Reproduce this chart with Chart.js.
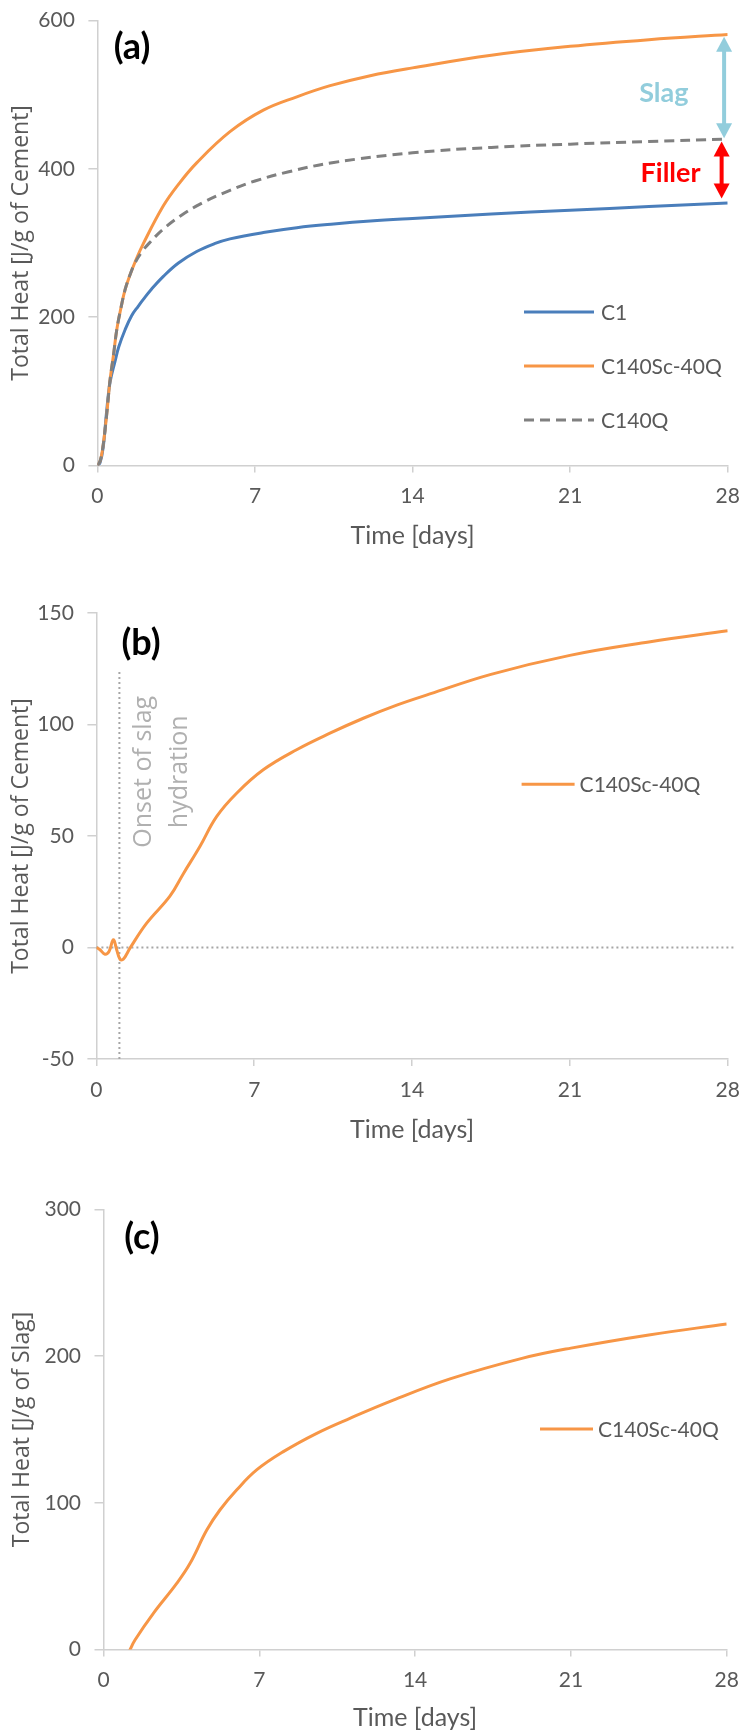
<!DOCTYPE html>
<html>
<head>
<meta charset="utf-8">
<script src="https://cdn.jsdelivr.net/npm/chart.js@4.4.1/dist/chart.umd.min.js"></script>
<style>
html, body { margin: 0; padding: 0; background: #ffffff; }
#wrap { position: relative; width: 741px; height: 1733px; overflow: hidden; background: #ffffff; }
canvas { position: absolute; left: 0; }
</style>
</head>
<body>
<div id="wrap">
  <canvas id="chartA" width="741" height="560" style="top:0px"></canvas>
  <canvas id="chartB" width="741" height="590" style="top:560px"></canvas>
  <canvas id="chartC" width="741" height="583" style="top:1150px"></canvas>
</div>
<script>
// ---------- tick labels ----------
const xTickValues = [0, 7, 14, 21, 28];
const yTicksA = [0, 200, 400, 600];
const yTicksB = [-50, 0, 50, 100, 150];
const yTicksC = [0, 100, 200, 300];

// ---------- series names ----------
const nameC1 = 'C1';
const nameSlag = 'C140Sc-40Q';
const nameQuartz = 'C140Q';

// ---------- panel (a): total heat per g cement ----------
const c1Days = [0, 0.12, 0.26, 0.4, 0.56, 0.78, 0.95, 1.23, 1.52, 1.82, 2.04, 2.41, 2.93, 3.6, 4.41, 5.2, 5.89, 7.37, 8.86, 10.5, 12.12, 14, 17.5, 21, 24.5, 28];
const c1Heat = [0, 4, 25, 70, 112, 140, 160, 183, 202, 215, 224, 238, 255, 273, 288.5, 299, 305.5, 314, 320.5, 325.5, 329.5, 333, 339, 344, 349, 354];

const slagDays = [0, 0.12, 0.22, 0.34, 0.45, 0.56, 0.72, 0.86, 1.05, 1.23, 1.45, 1.67, 2.04, 2.93, 3.6, 4.41, 5.89, 7.37, 8.86, 10.34, 12.12, 14, 17.5, 21, 24.5, 28];
const slagHeat = [0, 6, 20, 48, 80, 115, 150, 183, 213, 237, 257, 274, 299, 350, 379, 408, 450, 479, 497, 512, 525.5, 536, 553, 565, 574, 581];

const quartzDays = [0, 0.12, 0.22, 0.34, 0.45, 0.56, 0.72, 0.86, 1.05, 1.23, 1.45, 1.67, 2.0, 2.34, 2.9, 3.67, 4.6, 5.89, 7, 8.5, 10.5, 14, 17.5, 21, 24.5, 28];
const quartzHeat = [0, 6, 20, 48, 80, 115, 150, 183, 213, 237, 257, 273, 289, 301, 318, 336, 353, 371, 383.5, 396, 408.5, 421.5, 428.8, 433.2, 436.8, 440];

// ---------- panel (b): difference C140Sc-40Q minus C140Q ----------
const diffDays = [0, 0.16, 0.38, 0.56, 0.75, 0.9, 1.05, 1.19, 1.49, 2.23, 3.26, 3.85, 4.59, 5.33, 6.22, 7.4, 8.88, 10.36, 11.84, 13.32, 14.79, 17.5, 21, 24.5, 28];
const diffHeat = [0, -1, -3, -1.8, 3.5, -1, -5.3, -5.3, -0.3, 10.9, 23, 33, 45.3, 58.7, 69.2, 79.7, 88.7, 96.1, 102.8, 108.7, 113.7, 122.5, 131, 137, 142];
const onsetDay = 1.02;
const onsetTop = 124.4;

// ---------- panel (c): heat per g slag ----------
const perSlagDays = [1.15, 1.415, 2.24, 3.29, 3.89, 4.64, 5.23, 5.98, 6.88, 8.08, 9.58, 11.07, 13.02, 15.57, 18.8, 21, 24.5, 28];
const perSlagHeat = [-1.5, 6.4, 24.6, 45, 58.7, 81.4, 95.1, 108.7, 122.4, 134.9, 147.4, 157.6, 170, 184.5, 198.5, 205.5, 214.5, 222];

// ---------- helpers ----------
const toXY = (xs, ys) => xs.map((d, i) => ({ x: d, y: ys[i] }));
const GRAY_TXT = '#595959';
const AXIS_COL = '#d0d0d0';
const COL_BLUE = '#4a7ebb';
const COL_ORANGE = '#f79646';
const COL_GRAY = '#808080';
const COL_DOT = '#a6a6a6';

const decorPlugin = {
  id: 'decor',
  afterDatasetsDraw(chart, args, opts) {
    const { ctx, chartArea: ca, scales } = chart;
    const xs = scales.x, ys = scales.y;
    ctx.save();
    // panel label
    if (opts.panel) {
      ctx.font = 'bold 36px Lato';
      ctx.fillStyle = '#000000';
      ctx.textAlign = 'center';
      ctx.textBaseline = 'middle';
      ctx.fillText(opts.panel.text, ca.left + opts.panel.dx, ca.top + opts.panel.dy);
    }
    // legend entries
    if (opts.legend) {
      const L = opts.legend;
      L.items.forEach((it, i) => {
        const ds = chart.data.datasets[it.ds];
        const yy = ca.top + L.dy + i * L.gap;
        ctx.beginPath();
        ctx.strokeStyle = ds.borderColor;
        ctx.lineWidth = ds.borderWidth;
        ctx.setLineDash(ds.borderDash || []);
        ctx.moveTo(ca.left + L.dx, yy);
        ctx.lineTo(ca.left + L.dx + L.len, yy);
        ctx.stroke();
        ctx.setLineDash([]);
        ctx.font = '21px Lato';
        ctx.fillStyle = GRAY_TXT;
        ctx.textAlign = 'left';
        ctx.textBaseline = 'middle';
        ctx.fillText(ds.label, ca.left + L.dx + L.len + L.textGap, yy + 1);
      });
    }
    // arrows
    (opts.arrows || []).forEach(a => {
      const x = xs.getPixelForValue(a.day);
      const y1 = ys.getPixelForValue(a.from);
      const y2 = ys.getPixelForValue(a.to);
      const hl = 15, hw = 8;
      ctx.fillStyle = a.color;
      ctx.strokeStyle = a.color;
      ctx.lineWidth = 4;
      ctx.beginPath();
      ctx.moveTo(x, y1 + hl - 2);
      ctx.lineTo(x, y2 - hl + 2);
      ctx.stroke();
      ctx.beginPath();
      ctx.moveTo(x, y1); ctx.lineTo(x - hw, y1 + hl); ctx.lineTo(x + hw, y1 + hl); ctx.closePath(); ctx.fill();
      ctx.beginPath();
      ctx.moveTo(x, y2); ctx.lineTo(x - hw, y2 - hl); ctx.lineTo(x + hw, y2 - hl); ctx.closePath(); ctx.fill();
    });
    // free texts
    (opts.texts || []).forEach(t => {
      ctx.font = t.font;
      ctx.fillStyle = t.color;
      ctx.textAlign = 'center';
      ctx.textBaseline = t.baseline || 'alphabetic';
      const px = xs.getPixelForValue(t.day);
      const py = ys.getPixelForValue(t.value);
      if (t.rotate) {
        ctx.save();
        ctx.translate(px, py);
        ctx.rotate(-Math.PI / 2);
        ctx.fillText(t.text, 0, 0);
        ctx.restore();
      } else {
        ctx.fillText(t.text, px, py);
      }
    });
    ctx.restore();
  }
};

function makeChart(id, cfg) {
  return new Chart(document.getElementById(id), {
    type: 'line',
    data: { datasets: cfg.datasets },
    options: {
      responsive: false,
      animation: false,
      events: [],
      layout: { padding: { top: cfg.padTop, right: cfg.padRight, left: 0, bottom: 0 } },
      plugins: {
        legend: { display: false },
        tooltip: { enabled: false },
        title: { display: false },
        decor: cfg.decor
      },
      elements: { point: { radius: 0 } },
      scales: {
        x: {
          type: 'linear', min: 0, max: 28,
          afterBuildTicks: s => { s.ticks = xTickValues.map(v => ({ value: v })); },
          afterFit: s => { s.height = cfg.xHeight; s.paddingLeft = 0; s.paddingRight = 0; },
          grid: { drawOnChartArea: false, drawTicks: true, tickLength: 7, color: AXIS_COL, lineWidth: 1.5 },
          border: { display: true, color: AXIS_COL, width: 1.5 },
          ticks: { font: { family: 'Lato', size: 21 }, color: GRAY_TXT, padding: 11.5, maxRotation: 0, autoSkip: false },
          title: { display: true, text: 'Time [days]', font: { family: 'Lato', size: 25 }, color: GRAY_TXT,
                   padding: { top: 0, bottom: cfg.xTitlePad } }
        },
        y: {
          type: 'linear', min: cfg.yMin, max: cfg.yMax,
          afterBuildTicks: s => { s.ticks = cfg.yTicks.map(v => ({ value: v })); },
          afterFit: s => { s.width = cfg.yWidth; s.paddingTop = 0; s.paddingBottom = 0; },
          grid: { drawOnChartArea: false, drawTicks: true, tickLength: 9, color: AXIS_COL, lineWidth: 1.5 },
          border: { display: true, color: AXIS_COL, width: 1.5 },
          ticks: { font: { family: 'Lato', size: 21 }, color: GRAY_TXT, padding: 13.5, autoSkip: false },
          title: { display: true, text: cfg.yTitle, font: { family: 'Open Sans', size: 23 }, color: GRAY_TXT,
                   padding: { top: cfg.yTitlePad, bottom: 0 } }
        }
      }
    },
    plugins: [decorPlugin]
  });
}

const lineStyle = { borderWidth: 3, pointRadius: 0, tension: 0.4, fill: false };

// ---------- chart (a) ----------
makeChart('chartA', {
  padTop: 20.4, padRight: 13.3, xHeight: 94.5, xTitlePad: 9, yWidth: 97.4, yTitlePad: 7.6,
  yMin: 0, yMax: 600, yTicks: yTicksA, yTitle: 'Total Heat [J/g of Cement]',
  datasets: [
    Object.assign({ label: nameC1, data: toXY(c1Days, c1Heat), borderColor: COL_BLUE, order: 2 }, lineStyle),
    Object.assign({ label: nameSlag, data: toXY(slagDays, slagHeat), borderColor: COL_ORANGE, order: 1 }, lineStyle),
    Object.assign({ label: nameQuartz, data: toXY(quartzDays, quartzHeat), borderColor: COL_GRAY, borderDash: [10, 6], order: 0 }, lineStyle)
  ],
  decor: {
    panel: { text: '(a)', dx: 34.6, dy: 26.6 },
    legend: { dx: 426.6, dy: 291.6, gap: 54, len: 70, textGap: 7, items: [{ ds: 0 }, { ds: 1 }, { ds: 2 }] },
    arrows: [
      { day: 27.84, from: 578, to: 441, color: '#92cddc' },
      { day: 27.73, from: 436.6, to: 360, color: '#ff0000' }
    ],
    texts: [
      { text: 'Slag', day: 25.16, value: 490.5, font: 'bold 27px Lato', color: '#92cddc' },
      { text: 'Filler', day: 25.46, value: 382.6, font: 'bold 27px Lato', color: '#ff0000' }
    ]
  }
});

// ---------- chart (b) ----------
makeChart('chartB', {
  padTop: 53, padRight: 13.3, xHeight: 91, xTitlePad: 5.4, yWidth: 96.4, yTitlePad: 7.6,
  yMin: -50, yMax: 150, yTicks: yTicksB, yTitle: 'Total Heat [J/g of Cement]',
  datasets: [
    Object.assign({ label: nameSlag, data: toXY(diffDays, diffHeat), borderColor: COL_ORANGE, order: 0 }, lineStyle),
    { label: 'zero', data: [{ x: 0, y: 0 }, { x: 28.37, y: 0 }], borderColor: COL_DOT, borderWidth: 2, borderDash: [2, 3], pointRadius: 0, clip: false, order: 3 },
    { label: 'onset', data: [{ x: onsetDay, y: -50 }, { x: onsetDay, y: onsetTop }], borderColor: COL_DOT, borderWidth: 2, borderDash: [2, 3], pointRadius: 0, clip: false, order: 2 }
  ],
  decor: {
    panel: { text: '(b)', dx: 44.6, dy: 30 },
    legend: { dx: 425.2, dy: 171.3, gap: 0, len: 53, textGap: 5, items: [{ ds: 0 }] },
    texts: [
      { text: 'Onset of slag', day: 2.11, value: 78.8, font: '25px "Open Sans"', color: '#b0b0b0', rotate: true, baseline: 'middle' },
      { text: 'hydration', day: 3.69, value: 78.8, font: '25px "Open Sans"', color: '#b0b0b0', rotate: true, baseline: 'middle' }
    ]
  }
});

// ---------- chart (c) ----------
makeChart('chartC', {
  padTop: 59.6, padRight: 14.3, xHeight: 83.6, xTitlePad: 0, yWidth: 103.5, yTitlePad: 9,
  yMin: 0, yMax: 300, yTicks: yTicksC, yTitle: 'Total Heat [J/g of Slag]',
  datasets: [
    Object.assign({ label: nameSlag, data: toXY(perSlagDays, perSlagHeat), borderColor: COL_ORANGE, order: 0 }, lineStyle)
  ],
  decor: {
    panel: { text: '(c)', dx: 38.5, dy: 27.4 },
    legend: { dx: 436.5, dy: 219.4, gap: 0, len: 53, textGap: 5, items: [{ ds: 0 }] }
  }
});
</script>
</body>
</html>
